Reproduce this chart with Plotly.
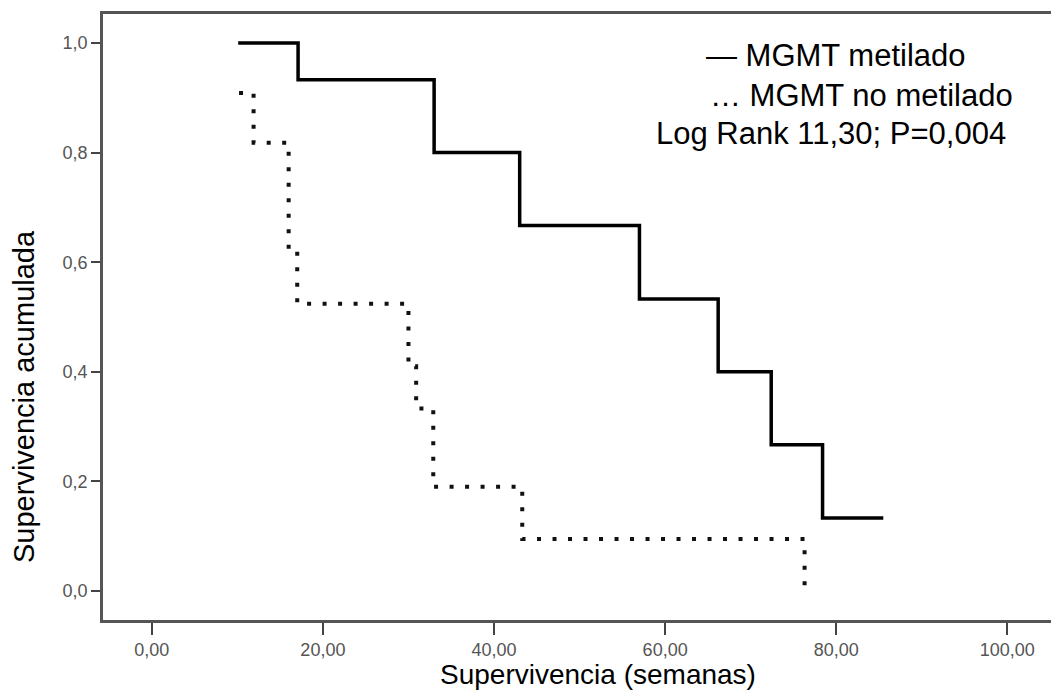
import plotly.graph_objects as go

# Kaplan-Meier step data (weeks, cumulative survival)
metilado_weeks = [10.1, 17.1, 33.0, 43.0, 57.0, 66.2, 72.4, 78.4, 85.5]
metilado_surv = [1.0, 0.933, 0.8, 0.667, 0.533, 0.4, 0.267, 0.133, 0.133]

no_metilado_weeks = [10.2, 11.9, 16.0, 17.0, 30.0, 30.9, 32.9, 43.3, 76.3]
no_metilado_surv = [0.909, 0.818, 0.622, 0.524, 0.41, 0.333, 0.19, 0.095, 0.0]

x_tickvals = [0, 20, 40, 60, 80, 100]
x_ticktext = ["0,00", "20,00", "40,00", "60,00", "80,00", "100,00"]
y_tickvals = [0.0, 0.2, 0.4, 0.6, 0.8, 1.0]
y_ticktext = ["0,0", "0,2", "0,4", "0,6", "0,8", "1,0"]

FONT = "Liberation Sans, Arial, sans-serif"

fig = go.Figure()
fig.add_trace(go.Scatter(
    x=metilado_weeks, y=metilado_surv, mode="lines", line_shape="hv",
    line=dict(color="black", width=3.5), name="MGMT metilado", showlegend=False,
))
fig.add_trace(go.Scatter(
    x=no_metilado_weeks, y=no_metilado_surv, mode="lines", line_shape="hv",
    line=dict(color="#111", width=4, dash="4px,11.5px"), name="MGMT no metilado",
    showlegend=False,
))

fig.update_layout(
    width=1051, height=691,
    margin=dict(l=103, r=0, t=14, b=71),
    paper_bgcolor="white", plot_bgcolor="white",
    font=dict(family=FONT),
    xaxis=dict(
        range=[-5.7, 105.1], tickvals=x_tickvals, ticktext=x_ticktext,
        ticks="outside", ticklen=12, tickwidth=2, tickcolor="#444",
        showline=True, linecolor="#555", linewidth=2.5, mirror=True,
        showgrid=False, zeroline=False,
        tickfont=dict(size=18, color="#555", family=FONT),
    ),
    yaxis=dict(
        range=[-0.053, 1.053], tickvals=y_tickvals, ticktext=y_ticktext,
        ticks="outside", ticklen=9, tickwidth=2, tickcolor="#444",
        showline=True, linecolor="#555", linewidth=2.5, mirror=False,
        showgrid=False, zeroline=False,
        tickfont=dict(size=18, color="#555", family=FONT),
    ),
)

def px_x(p):
    return (p - 103) / 948.0

def px_y(p):
    return (620 - p) / 606.0

annos = [
    dict(text="Supervivencia (semanas)", x=px_x(598), y=px_y(674), size=28, anchor="center"),
    dict(text="\u2014 MGMT metilado", x=px_x(704), y=px_y(56), size=31, anchor="left"),
    dict(text="\u2026 MGMT no metilado", x=px_x(708), y=px_y(95), size=31, anchor="left"),
    dict(text="Log Rank 11,30; P=0,004", x=px_x(654), y=px_y(133), size=31, anchor="left"),
]
for a in annos:
    fig.add_annotation(
        text=a["text"], x=a["x"], y=a["y"], xref="paper", yref="paper",
        xanchor=a["anchor"], yanchor="middle", showarrow=False,
        font=dict(size=a["size"], color="black", family=FONT),
    )

fig.add_annotation(
    text="Supervivencia acumulada", x=px_x(24), y=px_y(397), xref="paper", yref="paper",
    xanchor="center", yanchor="middle", textangle=-90, showarrow=False,
    font=dict(size=29, color="black", family=FONT),
)

fig.write_html("out.html")
